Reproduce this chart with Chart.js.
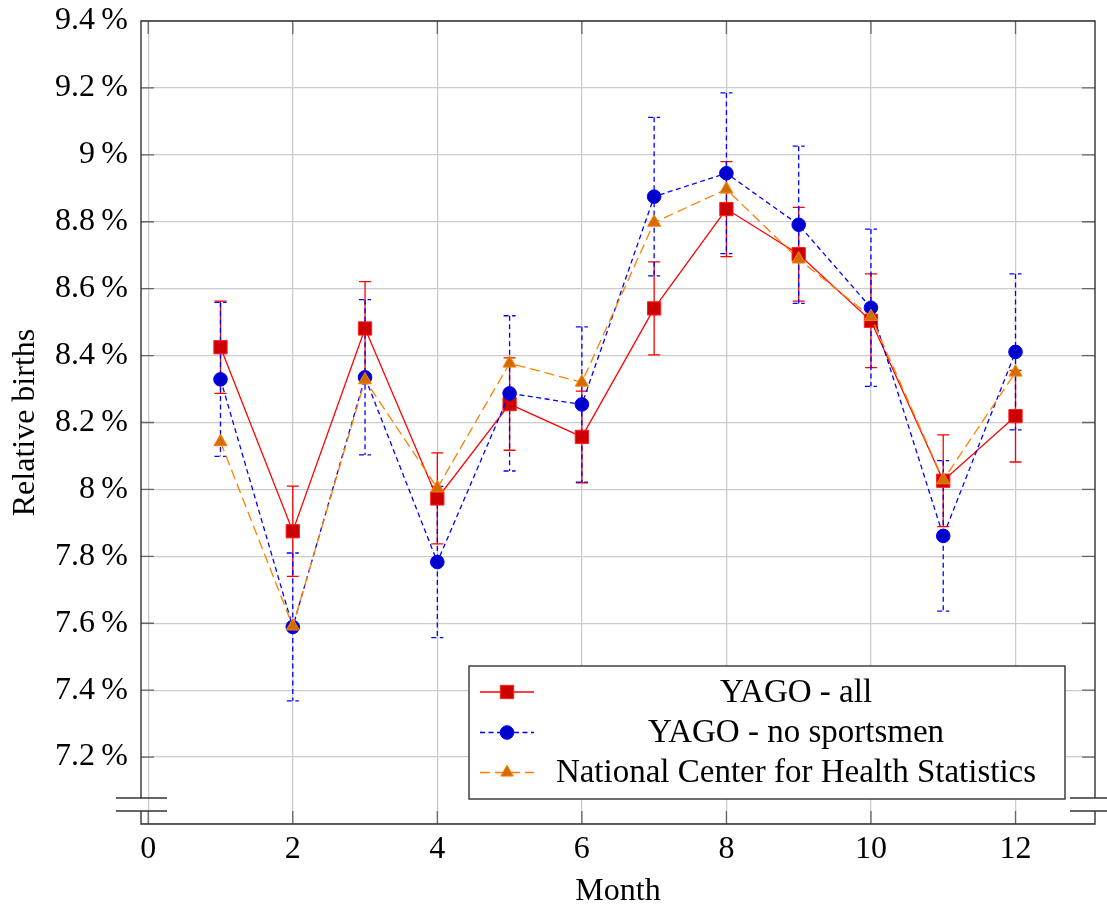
<!DOCTYPE html>
<html>
<head>
<meta charset="utf-8">
<title>Relative births by month</title>
<script src="https://cdn.jsdelivr.net/npm/chart.js@4.4.0/dist/chart.umd.min.js"></script>
<style>
  html, body { margin: 0; padding: 0; background: #fff; }
  #wrap { width: 1107px; height: 906px; position: relative; }
</style>
</head>
<body>
<div id="wrap"><canvas id="birthChart"></canvas></div>
<script>
// data (values in percent)
const months = [1, 2, 3, 4, 5, 6, 7, 8, 9, 10, 11, 12];
const yagoAll = [8.425, 7.875, 8.481, 7.973, 8.255, 8.157, 8.541, 8.838, 8.703, 8.504, 8.026, 8.219];
const yagoAllErr = [0.138, 0.135, 0.140, 0.136, 0.138, 0.137, 0.139, 0.142, 0.140, 0.140, 0.137, 0.137];
const yagoNoSport = [8.329, 7.589, 8.335, 7.783, 8.287, 8.254, 8.875, 8.945, 8.791, 8.543, 7.861, 8.411];
const yagoNoSportErr = [0.230, 0.221, 0.232, 0.226, 0.232, 0.232, 0.237, 0.240, 0.235, 0.235, 0.225, 0.233];
const nchs = [8.142, 7.591, 8.327, 8.004, 8.377, 8.320, 8.798, 8.897, 8.688, 8.516, 8.028, 8.350];
const xTickValues = [0, 2, 4, 6, 8, 10, 12];
const yTickValues = [7.2, 7.4, 7.6, 7.8, 8.0, 8.2, 8.4, 8.6, 8.8, 9.0, 9.2];

const serif = "'Liberation Serif', 'Times New Roman', serif";
Chart.defaults.font.family = serif;
Chart.defaults.color = '#000';

function toPoints(values) {
    return months.map((m, i) => ({ x: m, y: values[i] }));
}

// error bars, drawn below the lines and marks
const errorBarPlugin = {
    id: 'errorBars',
    beforeDatasetsDraw(chart) {
        const ctx = chart.ctx;
        const xs = chart.scales.x, ys = chart.scales.y;
        chart.data.datasets.forEach(ds => {
            if (!ds.errors) return;
            ctx.save();
            ctx.strokeStyle = ds.borderColor;
            ctx.lineWidth = 1.3;
            ctx.setLineDash(ds.borderDash || []);
            ds.data.forEach((p, i) => {
                const e = ds.errors[i];
                const x = xs.getPixelForValue(p.x);
                const y1 = ys.getPixelForValue(p.y + e);
                const y2 = ys.getPixelForValue(p.y - e);
                ctx.beginPath();
                ctx.moveTo(x, y1); ctx.lineTo(x, y2);
                ctx.moveTo(x - 6, y1); ctx.lineTo(x + 6, y1);
                ctx.moveTo(x - 6, y2); ctx.lineTo(x + 6, y2);
                ctx.stroke();
            });
            ctx.restore();
        });
    }
};

// tick marks, frame, axis break and the boxed legend
const framePlugin = {
    id: 'frame',
    beforeDatasetsDraw(chart) {
        const ctx = chart.ctx;
        const { left, right, top, bottom } = chart.chartArea;
        const xs = chart.scales.x, ys = chart.scales.y;
        ctx.save();
        ctx.strokeStyle = '#666';
        ctx.lineWidth = 1.3;
        ctx.beginPath();
        xTickValues.forEach(v => {
            const x = xs.getPixelForValue(v);
            ctx.moveTo(x, bottom); ctx.lineTo(x, bottom - 13);
            ctx.moveTo(x, top); ctx.lineTo(x, top + 13);
        });
        yTickValues.forEach(v => {
            const y = ys.getPixelForValue(v);
            ctx.moveTo(left, y); ctx.lineTo(left + 13, y);
            ctx.moveTo(right, y); ctx.lineTo(right - 13, y);
        });
        ctx.stroke();
        ctx.restore();
    },
    afterDraw(chart) {
        const ctx = chart.ctx;
        const { left, right, top, bottom } = chart.chartArea;
        const b1 = bottom - 26, b2 = bottom - 13;
        ctx.save();
        ctx.strokeStyle = '#333';
        ctx.lineWidth = 1.4;
        ctx.beginPath();
        // frame with a gap for the y axis discontinuity
        ctx.moveTo(left, b1); ctx.lineTo(left, top); ctx.lineTo(right, top); ctx.lineTo(right, b1);
        ctx.moveTo(left, b2); ctx.lineTo(left, bottom); ctx.lineTo(right, bottom); ctx.lineTo(right, b2);
        // break marks
        ctx.moveTo(left - 25, b1); ctx.lineTo(left + 26, b1);
        ctx.moveTo(left - 25, b2); ctx.lineTo(left + 26, b2);
        ctx.moveTo(right - 25, b1); ctx.lineTo(right + 26, b1);
        ctx.moveTo(right - 25, b2); ctx.lineTo(right + 26, b2);
        ctx.stroke();

        // legend box
        const bx = 469, by = 666, bw = 596, bh = 133;
        ctx.fillStyle = '#fff';
        ctx.fillRect(bx, by, bw, bh);
        ctx.strokeRect(bx, by, bw, bh);
        const rowY = [692, 732.5, 772.5];
        ctx.font = '33px ' + serif;
        ctx.textAlign = 'center';
        ctx.textBaseline = 'middle';
        const sets = [chart.data.datasets[0], chart.data.datasets[1], chart.data.datasets[2]];
        sets.forEach((ds, i) => {
            const y = rowY[i];
            ctx.save();
            ctx.strokeStyle = ds.borderColor;
            ctx.lineWidth = ds.borderWidth;
            ctx.setLineDash(ds.borderDash || []);
            ctx.beginPath();
            ctx.moveTo(480, y); ctx.lineTo(534, y);
            ctx.stroke();
            ctx.setLineDash([]);
            ctx.fillStyle = ds.pointBackgroundColor;
            ctx.strokeStyle = ds.pointBorderColor;
            ctx.lineWidth = 1;
            Chart.helpers.drawPoint(ctx, {
                pointStyle: ds.pointStyle,
                radius: ds.legendRadius,
                rotation: 0,
                borderWidth: 1
            }, 507, y);
            ctx.restore();
            ctx.fillStyle = '#000';
            ctx.fillText(ds.label, 796, y + 1);
        });
        ctx.restore();
    }
};

const ctx = document.getElementById('birthChart').getContext('2d');
const birthChart = new Chart(ctx, {
    type: 'line',
    data: {
        datasets: [{
            label: 'YAGO - all',
            data: toPoints(yagoAll),
            errors: yagoAllErr,
            borderColor: '#ff0000',
            borderWidth: 1.3,
            pointStyle: 'rect',
            pointRadius: 9.4,
            legendRadius: 9.4,
            pointBackgroundColor: '#cc0000',
            pointBorderColor: '#ff2020',
            pointBorderWidth: 1,
            tension: 0,
            order: 3
        }, {
            label: 'YAGO - no sportsmen',
            data: toPoints(yagoNoSport),
            errors: yagoNoSportErr,
            borderColor: '#0000ff',
            borderWidth: 1.3,
            borderDash: [5, 3.5],
            pointStyle: 'circle',
            pointRadius: 6.8,
            legendRadius: 6.8,
            pointBackgroundColor: '#0000cc',
            pointBorderColor: '#0000ff',
            pointBorderWidth: 1,
            tension: 0,
            order: 2
        }, {
            label: 'National Center for Health Statistics',
            data: toPoints(nchs),
            borderColor: '#ff8000',
            borderWidth: 1.3,
            borderDash: [10, 5],
            pointStyle: 'triangle',
            pointRadius: 7.6,
            legendRadius: 7.2,
            pointBackgroundColor: '#d06c00',
            pointBorderColor: '#ff8000',
            pointBorderWidth: 1,
            tension: 0,
            order: 1
        }]
    },
    options: {
        responsive: true,
        maintainAspectRatio: false,
        animation: false,
        layout: { padding: { top: 21, right: 12, left: 0, bottom: 0 } },
        plugins: {
            legend: { display: false },
            tooltip: { enabled: false }
        },
        scales: {
            x: {
                type: 'linear',
                min: -0.1,
                max: 13.1,
                afterFit: s => { s.height = 82; s.paddingLeft = 0; s.paddingRight = 0; },
                ticks: {
                    stepSize: 2,
                    includeBounds: false,
                    autoSkip: false,
                    maxRotation: 0,
                    padding: 6,
                    font: { size: 32 },
                    color: '#000'
                },
                grid: { color: '#cbcbcb', lineWidth: 1.3, drawTicks: false },
                border: { display: false },
                title: {
                    display: true,
                    text: 'Month',
                    font: { size: 32, lineHeight: 0.9 },
                    padding: { top: 0, bottom: 0 },
                    color: '#000'
                }
            },
            y: {
                min: 7.0,
                max: 9.4,
                afterFit: s => { s.width = 141; s.paddingTop = 0; s.paddingBottom = 0; },
                ticks: {
                    stepSize: 0.2,
                    autoSkip: false,
                    padding: 13,
                    font: { size: 32 },
                    color: '#000',
                    callback: v => Math.abs(v - 7) < 1e-6 ? '' : (Math.round(v * 10) / 10) + '\u2009%'
                },
                grid: { color: '#cbcbcb', lineWidth: 1.3, drawTicks: false },
                border: { display: false },
                title: {
                    display: true,
                    text: 'Relative births',
                    font: { size: 32, lineHeight: 1 },
                    padding: { top: 10, bottom: 0 },
                    color: '#000'
                }
            }
        }
    },
    plugins: [errorBarPlugin, framePlugin]
});
</script>
</body>
</html>
